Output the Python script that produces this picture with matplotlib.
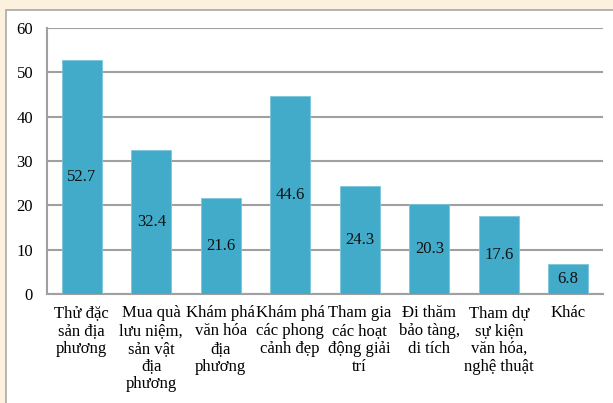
import matplotlib
matplotlib.use("Agg")
import matplotlib.pyplot as plt
from matplotlib.patches import Rectangle

categories = [
    "Thử đặc\nsản địa\nphương",
    "Mua quà\nlưu niệm,\nsản vật\nđịa\nphương",
    "Khám phá\nvăn hóa\nđịa\nphương",
    "Khám phá\ncác phong\ncảnh đẹp",
    "Tham gia\ncác hoạt\nđộng giải\ntrí",
    "Đi thăm\nbảo tàng,\ndi tích",
    "Tham dự\nsự kiện\nvăn hóa,\nnghệ thuật",
    "Khác",
]
values = [52.7, 32.4, 21.6, 44.6, 24.3, 20.3, 17.6, 6.8]
yticks = [0, 10, 20, 30, 40, 50, 60]

plt.rcParams['font.family'] = ['Liberation Serif', 'DejaVu Serif']

fig = plt.figure(figsize=(6.13, 4.03), dpi=100)
fig.patch.set_facecolor('#FCF1DF')
# white panel with border
fig.patches.append(Rectangle((6/613, -0.05), 1.0, 1 - 10/403 + 0.05, transform=fig.transFigure,
                             facecolor='white', edgecolor='#A8A8A8', linewidth=1.2, zorder=-10))

ax = fig.add_axes([47/613, 1 - 294/403, 556/613, 266/403])
ax.set_facecolor('white')
x = list(range(len(categories)))
bars = ax.bar(x, values, width=0.57, color='#41ABC9', edgecolor='#7CC6DB', linewidth=0.6, zorder=3)
for xi, v in zip(x, values):
    ax.text(xi, v / 2, f"{v}", ha='center', va='center', fontsize=12, color='#111111', zorder=4)

ax.set_ylim(0, 60)
ax.set_xlim(-0.5, len(categories) - 0.5)
ax.set_yticks(yticks)
ax.set_yticklabels([str(t) for t in yticks], fontsize=12)
ax.set_xticks(x)
ax.set_xticklabels(categories, fontsize=12, linespacing=1.15, va='top')
ax.tick_params(axis='x', length=0, pad=8)
ax.tick_params(axis='y', length=0, pad=10)
ax.yaxis.grid(True, color='#A0A0A0', linewidth=1.5, zorder=0)
ax.set_axisbelow(True)
for s in ['top', 'right']:
    ax.spines[s].set_visible(False)
for s in ['left', 'bottom']:
    ax.spines[s].set_color('#A0A0A0')
    ax.spines[s].set_linewidth(1.5)

fig.savefig('out.png', dpi=100, facecolor=fig.get_facecolor())
